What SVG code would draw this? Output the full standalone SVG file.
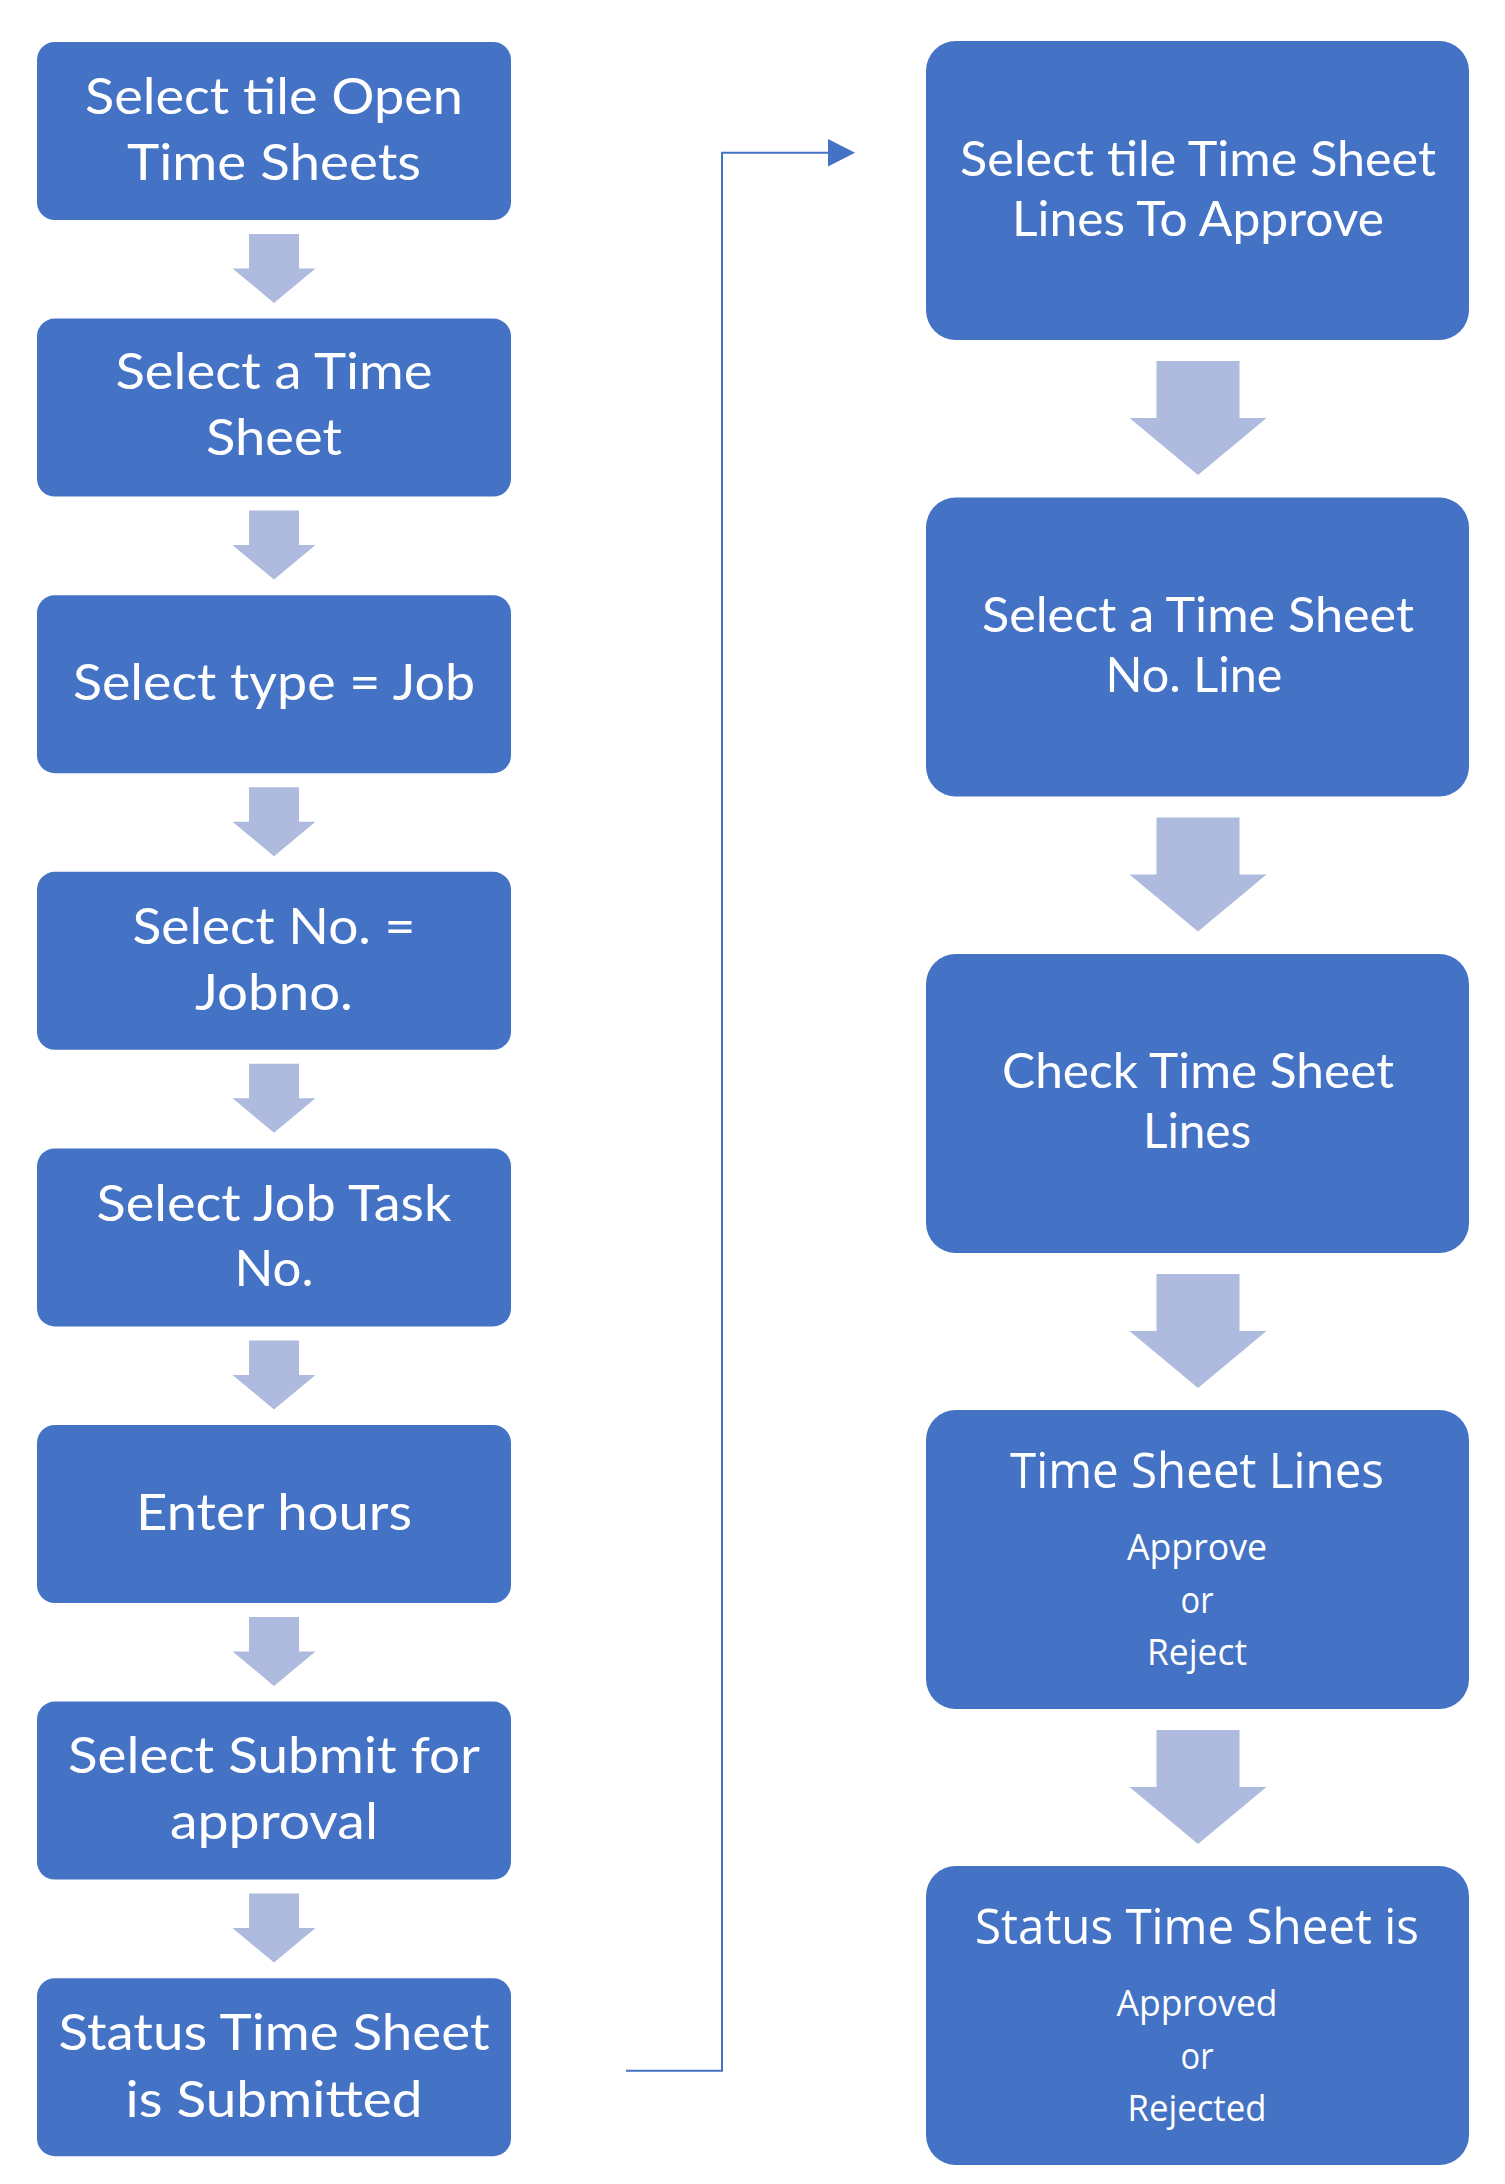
<svg xmlns="http://www.w3.org/2000/svg" xmlns:xlink="http://www.w3.org/1999/xlink" width="1505" height="2184" viewBox="0 0 1505 2184">
<style>
.box{fill:#4472C4;}
.arr{fill:#AFBBDE;}
.t{fill:#FFFFFF;font-family:Lato,"Liberation Sans",sans-serif;text-anchor:middle;}
.l{font-size:51px;}
.r{font-size:48px;}
.s{fill:#FFFFFF;font-family:"Open Sans","Noto Sans",sans-serif;text-anchor:middle;}
.sb{font-size:50px;}
.ss{font-size:37px;}
.conn{fill:none;stroke:#4472C4;stroke-width:2;}
</style>
<defs>
<path id="arrL" class="arr" d="M-25,0 H25 V34.5 H41.5 L0,69 L-41.5,34.5 H-25 Z"/>
<path id="arrR" class="arr" d="M-41.5,0 H41.5 V57 H68.5 L0,114 L-68.5,57 H-41.5 Z"/>
</defs>
<rect width="1505" height="2184" fill="#FFFFFF"/>

<g id="connectors">
<use xlink:href="#arrL" x="274" y="234"/>
<use xlink:href="#arrL" x="274" y="510.6"/>
<use xlink:href="#arrL" x="274" y="787.2"/>
<use xlink:href="#arrL" x="274" y="1063.8"/>
<use xlink:href="#arrL" x="274" y="1340.4"/>
<use xlink:href="#arrL" x="274" y="1617"/>
<use xlink:href="#arrL" x="274" y="1893.6"/>
<use xlink:href="#arrR" x="1198" y="361"/>
<use xlink:href="#arrR" x="1198" y="817.5"/>
<use xlink:href="#arrR" x="1198" y="1274"/>
<use xlink:href="#arrR" x="1198" y="1730"/>
<polyline class="conn" points="626,2070.7 722,2070.7 722,152.7 829,152.7"/>
<polygon points="828,139 855,152.7 828,166.4" fill="#4472C4"/>
</g>

<g id="n1">
<rect class="box" x="37" y="42" width="474" height="178" rx="17.8"/>
<text class="t l" x="274" y="114" textLength="378" lengthAdjust="spacingAndGlyphs">Select tile Open</text>
<text class="t l" x="274" y="179.5" textLength="294" lengthAdjust="spacingAndGlyphs">Time Sheets</text>
</g>
<g id="n2">
<rect class="box" x="37" y="318.6" width="474" height="178" rx="17.8"/>
<text class="t l" x="274" y="389" textLength="317" lengthAdjust="spacingAndGlyphs">Select a Time</text>
<text class="t l" x="274" y="455" textLength="136" lengthAdjust="spacingAndGlyphs">Sheet</text>
</g>
<g id="n3">
<rect class="box" x="37" y="595.2" width="474" height="178" rx="17.8"/>
<text class="t l" x="274" y="700" textLength="402" lengthAdjust="spacingAndGlyphs">Select type = Job</text>
</g>
<g id="n4">
<rect class="box" x="37" y="871.8" width="474" height="178" rx="17.8"/>
<text class="t l" x="274" y="944" textLength="283" lengthAdjust="spacingAndGlyphs">Select No. =</text>
<text class="t l" x="274" y="1010" textLength="158" lengthAdjust="spacingAndGlyphs">Jobno.</text>
</g>
<g id="n5">
<rect class="box" x="37" y="1148.4" width="474" height="178" rx="17.8"/>
<text class="t l" x="274" y="1221" textLength="355" lengthAdjust="spacingAndGlyphs">Select Job Task</text>
<text class="t l" x="274" y="1286" textLength="79" lengthAdjust="spacingAndGlyphs">No.</text>
</g>
<g id="n6">
<rect class="box" x="37" y="1425" width="474" height="178" rx="17.8"/>
<text class="t l" x="274" y="1530" textLength="276" lengthAdjust="spacingAndGlyphs">Enter hours</text>
</g>
<g id="n7">
<rect class="box" x="37" y="1701.6" width="474" height="178" rx="17.8"/>
<text class="t l" x="274" y="1773" textLength="412" lengthAdjust="spacingAndGlyphs">Select Submit for</text>
<text class="t l" x="274" y="1839" textLength="208" lengthAdjust="spacingAndGlyphs">approval</text>
</g>
<g id="n8">
<rect class="box" x="37" y="1978.2" width="474" height="178" rx="17.8"/>
<text class="t l" x="274" y="2050" textLength="431" lengthAdjust="spacingAndGlyphs">Status Time Sheet</text>
<text class="t l" x="274" y="2117" textLength="297" lengthAdjust="spacingAndGlyphs">is Submitted</text>
</g>

<g id="r1">
<rect class="box" x="926" y="41" width="543" height="299" rx="29.9"/>
<text class="t r" x="1198" y="176" textLength="476" lengthAdjust="spacingAndGlyphs">Select tile Time Sheet</text>
<text class="t r" x="1198" y="236" textLength="372" lengthAdjust="spacingAndGlyphs">Lines To Approve</text>
</g>
<g id="r2">
<rect class="box" x="926" y="497.5" width="543" height="299" rx="29.9"/>
<text class="t r" x="1198" y="632" textLength="432" lengthAdjust="spacingAndGlyphs">Select a Time Sheet</text>
<text class="t r" x="1194" y="692" textLength="177" lengthAdjust="spacingAndGlyphs">No. Line</text>
</g>
<g id="r3">
<rect class="box" x="926" y="954" width="543" height="299" rx="29.9"/>
<text class="t r" x="1198" y="1088" textLength="392" lengthAdjust="spacingAndGlyphs">Check Time Sheet</text>
<text class="t r" x="1197" y="1148" textLength="108" lengthAdjust="spacingAndGlyphs">Lines</text>
</g>
<g id="r4">
<rect class="box" x="926" y="1410" width="543" height="299" rx="29.9"/>
<text class="s sb" x="1197" y="1488" textLength="374" lengthAdjust="spacingAndGlyphs">Time Sheet Lines</text>
<text class="s ss" x="1197" y="1559.5" textLength="140" lengthAdjust="spacingAndGlyphs">Approve</text>
<text class="s ss" x="1197" y="1613" textLength="33" lengthAdjust="spacingAndGlyphs">or</text>
<text class="s ss" x="1197" y="1664.5" textLength="100" lengthAdjust="spacingAndGlyphs">Reject</text>
</g>
<g id="r5">
<rect class="box" x="926" y="1866" width="543" height="299" rx="29.9"/>
<text class="s sb" x="1197" y="1944" textLength="444" lengthAdjust="spacingAndGlyphs">Status Time Sheet is</text>
<text class="s ss" x="1197" y="2016" textLength="161" lengthAdjust="spacingAndGlyphs">Approved</text>
<text class="s ss" x="1197" y="2069" textLength="33" lengthAdjust="spacingAndGlyphs">or</text>
<text class="s ss" x="1197" y="2121" textLength="139" lengthAdjust="spacingAndGlyphs">Rejected</text>
</g>
</svg>
